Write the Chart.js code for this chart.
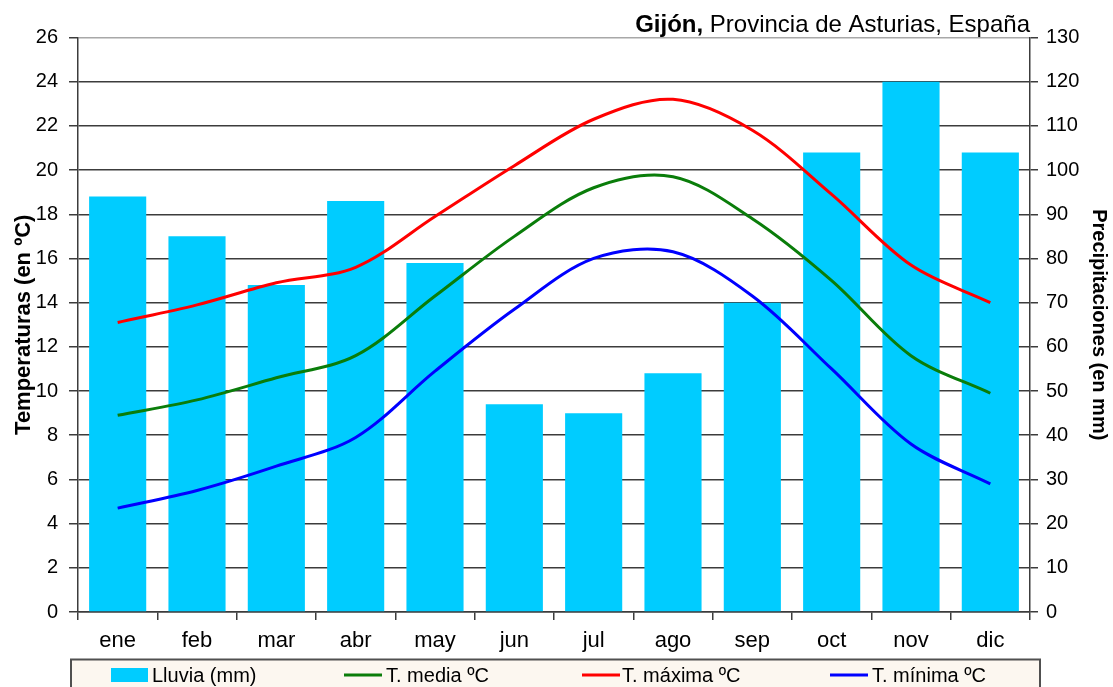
<!DOCTYPE html>
<html>
<head>
<meta charset="utf-8">
<script src="https://cdn.jsdelivr.net/npm/chart.js@4.4.0/dist/chart.umd.min.js"></script>
<style>
  html, body { margin: 0; padding: 0; background: #ffffff; }
  #wrap { width: 1113px; height: 687px; position: relative; }
</style>
</head>
<body>
<div id="wrap"><canvas id="climograma" width="1113" height="687"></canvas></div>
<script>
// Climograma de Gijón: precipitación mensual (barras) y temperaturas (líneas)
const meses = ['ene', 'feb', 'mar', 'abr', 'may', 'jun', 'jul', 'ago', 'sep', 'oct', 'nov', 'dic'];
const lluvia = [94, 85, 74, 93, 79, 47, 45, 54, 70, 104, 120, 104];
const tMedia = [8.9, 9.6, 10.6, 11.6, 14.3, 17.0, 19.2, 19.7, 17.8, 15.0, 11.6, 9.9];
const tMaxima = [13.1, 13.9, 14.9, 15.6, 17.9, 20.2, 22.3, 23.2, 21.8, 18.9, 15.7, 14.0];
const tMinima = [4.7, 5.5, 6.6, 7.9, 10.9, 13.7, 16.0, 16.3, 14.3, 11.0, 7.6, 5.8];

const ticksTemp = { min: 0, max: 26, step: 2 };
const ticksPrec = { min: 0, max: 130, step: 10 };

const FONT = "Arial, 'Liberation Sans', sans-serif";
const AXIS_DARK = '#3c3c3c';

// Título con la ciudad en negrita, alineado a la derecha del área de trazado
const tituloPlugin = {
  id: 'tituloMixto',
  afterDraw(chart) {
    const { ctx, chartArea } = chart;
    ctx.save();
    ctx.fillStyle = '#000';
    ctx.textBaseline = 'alphabetic';
    const parteNegrita = 'Gijón,';
    const parteNormal = ' Provincia de Asturias, España';
    ctx.font = 'bold 24px ' + FONT;
    const wB = ctx.measureText(parteNegrita).width;
    ctx.font = '24px ' + FONT;
    const wN = ctx.measureText(parteNormal).width;
    const x0 = chartArea.right - wB - wN;
    const y = 31.5;
    ctx.font = 'bold 24px ' + FONT;
    ctx.fillText(parteNegrita, x0, y);
    ctx.font = '24px ' + FONT;
    ctx.fillText(parteNormal, x0 + wB, y);
    ctx.restore();
  }
};

// Leyenda enmarcada bajo el eje de meses
const leyendaPlugin = {
  id: 'leyendaEnmarcada',
  afterDraw(chart) {
    const { ctx } = chart;
    const ds = chart.data.datasets;
    ctx.save();
    ctx.fillStyle = '#fcf7f0';
    ctx.fillRect(71, 659.5, 969, 40);
    ctx.strokeStyle = '#505050';
    ctx.lineWidth = 2;
    ctx.strokeRect(71, 659.5, 969, 40);

    const orden = [
      { ds: ds[3], xs: 111, xt: 152 },
      { ds: ds[0], xs: 344, xt: 386 },
      { ds: ds[1], xs: 582, xt: 622 },
      { ds: ds[2], xs: 830, xt: 872 }
    ];
    ctx.font = '20px ' + FONT;
    ctx.textBaseline = 'alphabetic';
    orden.forEach(item => {
      if (item.ds.type === 'bar') {
        ctx.fillStyle = item.ds.backgroundColor;
        ctx.fillRect(item.xs, 668, 37, 14);
      } else {
        ctx.strokeStyle = item.ds.borderColor;
        ctx.lineWidth = 3;
        ctx.beginPath();
        ctx.moveTo(item.xs, 675);
        ctx.lineTo(item.xs + 38, 675);
        ctx.stroke();
      }
      ctx.fillStyle = '#000';
      ctx.fillText(item.ds.label, item.xt, 682);
    });
    ctx.restore();
  }
};

const linea = (label, data, color) => ({
  type: 'line',
  label,
  data,
  yAxisID: 'y',
  borderColor: color,
  backgroundColor: color,
  borderWidth: 3,
  pointRadius: 0,
  pointHoverRadius: 0,
  tension: 0.33,
  fill: false,
  order: 0
});

new Chart(document.getElementById('climograma'), {
  data: {
    labels: meses,
    datasets: [
      linea('T. media ºC', tMedia, '#0a7d0a'),
      linea('T. máxima ºC', tMaxima, '#ff0000'),
      linea('T. mínima ºC', tMinima, '#0000ff'),
      {
        type: 'bar',
        label: 'Lluvia (mm)',
        data: lluvia,
        yAxisID: 'y1',
        backgroundColor: '#00ccff',
        borderWidth: 0,
        barPercentage: 0.72,
        categoryPercentage: 1.0,
        order: 1
      }
    ]
  },
  options: {
    responsive: false,
    animation: false,
    events: [],
    layout: { padding: { top: 37.5, left: 0, right: 0, bottom: 0 } },
    plugins: {
      legend: { display: false },
      title: { display: false },
      tooltip: { enabled: false }
    },
    scales: {
      x: {
        offset: true,
        afterFit(scale) { scale.height = 75; },
        grid: {
          offset: true,
          drawOnChartArea: false,
          drawTicks: true,
          tickLength: 8,
          color: AXIS_DARK,
          lineWidth: 1.5
        },
        border: { display: true, color: AXIS_DARK, width: 1.5 },
        ticks: {
          color: '#000',
          padding: 8,
          font: { family: FONT, size: 22 },
          maxRotation: 0,
          autoSkip: false
        }
      },
      y: {
        position: 'left',
        min: ticksTemp.min,
        max: ticksTemp.max,
        afterFit(scale) { scale.width = 78; },
        grid: {
          color: ctx => (ctx.tick && ctx.tick.value === ticksTemp.max) ? '#a8a8a8' : AXIS_DARK,
          tickColor: AXIS_DARK,
          lineWidth: 1.5,
          tickLength: 9,
          drawTicks: true
        },
        border: { display: true, color: AXIS_DARK, width: 1.5 },
        ticks: {
          stepSize: ticksTemp.step,
          color: '#000',
          padding: 11,
          font: { family: FONT, size: 20 }
        },
        title: {
          display: true,
          text: 'Temperaturas (en ºC)',
          color: '#000',
          font: { family: FONT, size: 22, weight: 'bold' },
          padding: { top: 11, bottom: 0 }
        }
      },
      y1: {
        position: 'right',
        min: ticksPrec.min,
        max: ticksPrec.max,
        afterFit(scale) { scale.width = 83; },
        grid: {
          drawOnChartArea: false,
          drawTicks: true,
          tickLength: 8,
          color: AXIS_DARK,
          lineWidth: 1.5
        },
        border: { display: true, color: AXIS_DARK, width: 1.5 },
        ticks: {
          stepSize: ticksPrec.step,
          color: '#000',
          padding: 8,
          font: { family: FONT, size: 20 }
        },
        title: {
          display: true,
          text: 'Precipitaciones (en mm)',
          color: '#000',
          font: { family: FONT, size: 20, weight: 'bold' },
          padding: { top: 2, bottom: 0 }
        }
      }
    }
  },
  plugins: [tituloPlugin, leyendaPlugin]
});
</script>
</body>
</html>
